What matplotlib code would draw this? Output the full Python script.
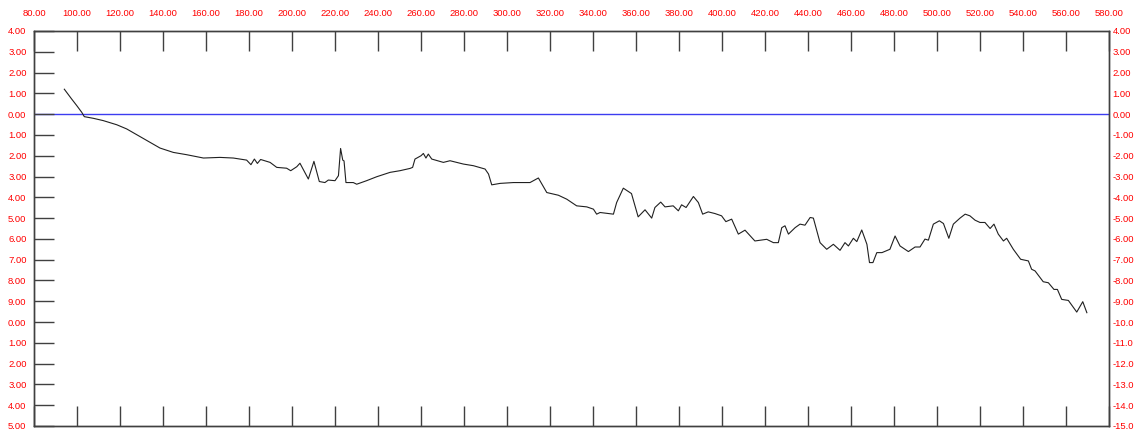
import matplotlib.pyplot as plt
from matplotlib.ticker import FixedLocator

# Dados
x_vals = [94.1, 97.5, 99.9, 102.2, 103.4, 107.6, 112.2, 118.5, 123.1, 127.8,
          134.0, 138.6, 144.8, 151.0, 158.8, 166.5, 172.7, 178.9, 180.9, 182.5,
          183.9, 185.4, 189.8, 192.9, 197.5, 199.4, 202.2, 203.7, 207.6, 210.2,
          212.7, 215.3, 216.9, 220.0, 221.6, 222.6, 223.6, 224.2, 225.1, 228.5,
          230.1, 234.7, 239.4, 245.6, 250.2, 254.9, 256.1, 257.2, 260.0, 261.1,
          262.3, 263.4, 265.0, 270.4, 273.5, 279.7, 284.4, 289.8, 291.4, 292.9,
          296.8, 303.0, 310.7, 314.6, 318.5, 323.9, 327.8, 332.4, 337.1, 340.2,
          341.7, 343.3, 349.5, 351.0, 354.1, 357.9, 361.0, 364.2, 367.3, 368.8,
          371.5, 373.5, 377.3, 379.7, 381.2, 383.3, 386.7, 389.0, 391.0, 393.6,
          396.7, 399.8, 401.8, 404.5, 407.6, 410.7, 415.3, 420.8, 423.9, 426.2,
          427.8, 429.3, 430.9, 434.0, 436.3, 438.6, 441.0, 442.5, 445.6, 448.7,
          451.8, 454.9, 457.2, 458.8, 461.1, 462.7, 465.0, 467.4, 468.6, 470.2,
          472.0, 474.4, 478.1, 480.5, 482.8, 486.7, 489.8, 492.1, 494.4, 496.0,
          498.3, 501.1, 503.0, 505.5, 507.6, 510.7, 513.1, 515.3, 517.7, 520.0,
          522.3, 524.7, 526.5, 528.5, 530.9, 532.4, 535.5, 538.9, 542.5, 544.0,
          545.6, 549.4, 551.8, 554.4, 556.0, 558.0, 561.1, 565.0, 567.8, 569.7]
y_vals = [1.20, 0.73, 0.41, 0.09, -0.12, -0.20, -0.31, -0.51, -0.71, -0.99,
          -1.36, -1.63, -1.84, -1.95, -2.11, -2.08, -2.11, -2.21, -2.43, -2.16,
          -2.37, -2.18, -2.32, -2.56, -2.60, -2.72, -2.53, -2.36, -3.12, -2.27,
          -3.24, -3.29, -3.17, -3.20, -2.96, -1.65, -2.21, -2.25, -3.29, -3.29,
          -3.37, -3.20, -3.01, -2.80, -2.72, -2.61, -2.56, -2.16, -2.00, -1.89,
          -2.11, -1.92, -2.16, -2.32, -2.24, -2.40, -2.48, -2.64, -2.88, -3.40,
          -3.33, -3.29, -3.29, -3.07, -3.77, -3.90, -4.09, -4.41, -4.46, -4.57,
          -4.81, -4.73, -4.81, -4.25, -3.56, -3.82, -4.94, -4.60, -5.00, -4.49,
          -4.23, -4.46, -4.41, -4.65, -4.36, -4.49, -3.96, -4.25, -4.81, -4.70,
          -4.78, -4.89, -5.17, -5.05, -5.77, -5.58, -6.10, -6.02, -6.18, -6.18,
          -5.46, -5.37, -5.77, -5.46, -5.29, -5.34, -4.97, -5.00, -6.18, -6.50,
          -6.26, -6.55, -6.18, -6.34, -5.97, -6.13, -5.57, -6.26, -7.14, -7.14,
          -6.66, -6.66, -6.50, -5.86, -6.34, -6.61, -6.39, -6.39, -6.01, -6.06,
          -5.29, -5.13, -5.26, -5.97, -5.29, -5.00, -4.81, -4.89, -5.10, -5.21,
          -5.21, -5.50, -5.29, -5.77, -6.10, -5.97, -6.50, -6.98, -7.06, -7.46,
          -7.54, -8.06, -8.11, -8.43, -8.43, -8.91, -8.96, -9.52, -9.02, -9.55]

x_ticks = list(range(80, 581, 20))
x_labels = [f"{v:.2f}" for v in x_ticks]
y_ticks = list(range(4, -16, -1))
right_labels = ["4.00", "3.00", "2.00", "1.00", "0.00", "-1.00", "-2.00", "-3.00",
                "-4.00", "-5.00", "-6.00", "-7.00", "-8.00", "-9.00", "-10.0",
                "-11.0", "-12.0", "-13.0", "-14.0", "-15.0"]
left_labels = ["4.00", "3.00", "2.00", "1.00", "0.00", "1.00", "2.00", "3.00",
               "4.00", "5.00", "6.00", "7.00", "8.00", "9.00", "0.00",
               "1.00", "2.00", "3.00", "4.00", "5.00"]

plt.rcParams['font.family'] = ['Liberation Sans', 'DejaVu Sans']

fig = plt.figure(figsize=(11.42, 4.33), dpi=100)
ax = fig.add_axes([34 / 1142, 7 / 433, 1075 / 1142, 395 / 433])

ax.axhline(0, color='#3c3cf0', lw=1.0, zorder=1)
ax.plot(x_vals, y_vals, color='#202020', lw=0.8, zorder=2)

ax.set_xlim(80, 580)
ax.set_ylim(-15, 4)

# Eixo x: rótulos em cima, marcas para dentro em cima e em baixo
ax.xaxis.set_major_locator(FixedLocator(x_ticks))
ax.set_xticklabels(x_labels)
ax.tick_params(axis='x', direction='in', length=14.4, width=1, color='#404040',
               top=True, bottom=True, labeltop=True, labelbottom=False,
               labelsize=6.8, labelcolor='red', pad=9.2)

# Eixo y: rótulos dos dois lados
ax.yaxis.set_major_locator(FixedLocator(y_ticks))
ax.set_yticklabels(left_labels)
ax.tick_params(axis='y', direction='in', length=14.4, width=1, color='#404040',
               left=True, right=True, labelleft=True, labelright=False,
               labelsize=6.8, labelcolor='red', pad=5.4)

ax2 = ax.twinx()
ax2.set_ylim(-15, 4)
ax2.yaxis.set_major_locator(FixedLocator(y_ticks))
ax2.set_yticklabels(right_labels)
ax2.tick_params(axis='y', direction='in', length=0, labelsize=6.8,
                labelcolor='red', pad=2.5)

for a in (ax, ax2):
    for s in a.spines.values():
        s.set_color('#404040')
        s.set_linewidth(1)

plt.savefig('out.png', dpi=100)
